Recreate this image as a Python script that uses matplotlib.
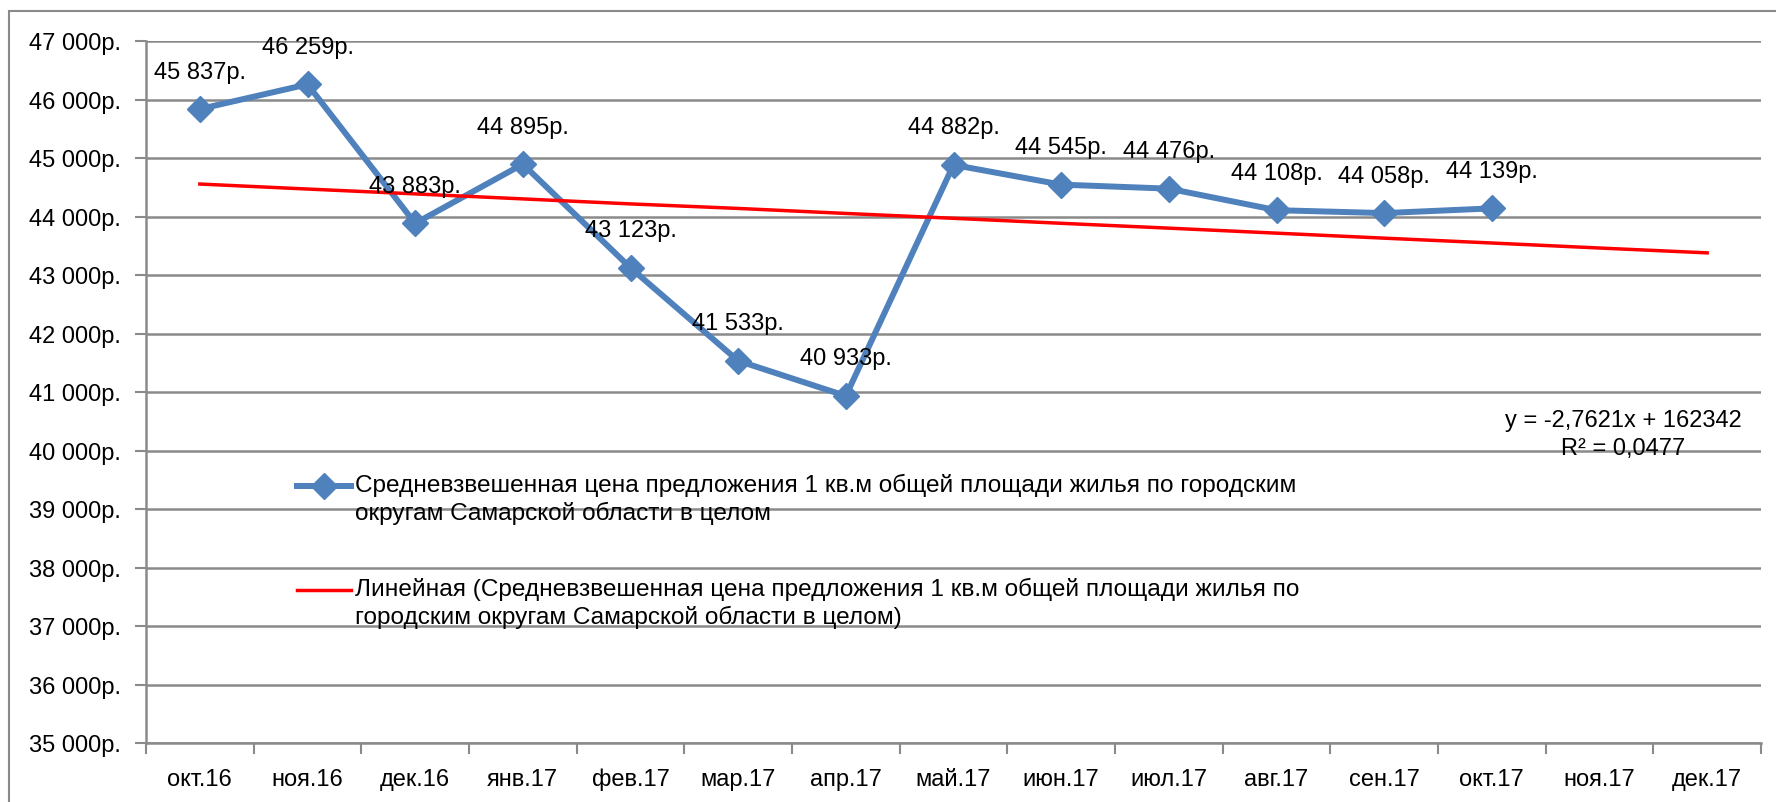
import numpy as np
import matplotlib
matplotlib.use('Agg')
import matplotlib.pyplot as plt
from matplotlib.lines import Line2D
from matplotlib.patches import Rectangle
from matplotlib.ticker import FuncFormatter

plt.rcParams['font.family'] = ['Liberation Sans', 'DejaVu Sans']

# данные
months = ['окт.16', 'ноя.16', 'дек.16', 'янв.17', 'фев.17', 'мар.17', 'апр.17', 'май.17',
          'июн.17', 'июл.17', 'авг.17', 'сен.17', 'окт.17', 'ноя.17', 'дек.17']
month_dates = np.arange(np.datetime64('2016-10'), np.datetime64('2018-01'),
                        np.timedelta64(1, 'M')).astype('datetime64[D]')
prices = [45837, 46259, 43883, 44895, 43123, 41533, 40933, 44882,
          44545, 44476, 44108, 44058, 44139]

# линейный тренд (как в Excel: x = серийный номер даты)
slope = -2.7621
intercept = 162342
r2 = 0.0477
excel_serial = (month_dates - np.datetime64('1899-12-30')).astype(int)
trend = slope * excel_serial + intercept

series_label = 'Средневзвешенная цена предложения 1 кв.м общей площади жилья по городским\nокругам Самарской области в целом'
trend_label = 'Линейная (Средневзвешенная цена предложения 1 кв.м общей площади жилья по\nгородским округам Самарской области в целом)'

grey = '#8a8a8a'
blue = '#4f81bd'
red = '#ff0000'
fs = 17

W, H = 1776, 803
fig = plt.figure(figsize=(W / 100, H / 100), dpi=100)
ax = fig.add_axes([146 / W, 1 - 744 / H, 1615 / W, 702 / H])

# рамка диаграммы
fig.add_artist(Rectangle((9 / W, -0.1), 1.2, 1 - 12 / H + 0.1, transform=fig.transFigure,
                         fill=False, edgecolor=grey, linewidth=1.5))

x = np.arange(len(prices))
ax.plot(x, prices, color=blue, linewidth=4.3, marker='D', markersize=13,
        markerfacecolor=blue, markeredgecolor=blue, zorder=3)
ax.plot(np.arange(len(months)), trend, color=red, linewidth=2.5, zorder=4)

for xi, v in zip(x, prices):
    ax.annotate(f'{v:,}'.replace(',', ' ') + 'р.', (xi, v), xytext=(0, 27),
                textcoords='offset points', ha='center', va='center', fontsize=fs, zorder=5)

ax.set_xlim(-0.5, len(months) - 0.5)
ax.set_ylim(35000, 47000)
ax.set_yticks(np.arange(35000, 47001, 1000))
ax.yaxis.set_major_formatter(FuncFormatter(lambda v, p: f'{int(v):,}'.replace(',', ' ') + 'р.'))
ax.set_xticks(np.arange(len(months)))
ax.set_xticklabels(months)
ax.set_xticks(np.arange(-0.5, len(months)), minor=True)
ax.tick_params(axis='x', which='major', length=0, pad=18, labelsize=fs)
ax.tick_params(axis='x', which='minor', length=8, color=grey, width=1.5)
ax.tick_params(axis='y', length=8, color=grey, width=1.5, pad=10, labelsize=fs)

ax.grid(axis='y', color=grey, linewidth=1.8, zorder=0)
ax.set_axisbelow(True)
for s in ['top', 'right']:
    ax.spines[s].set_visible(False)
for s in ['left', 'bottom']:
    ax.spines[s].set_color(grey)
    ax.spines[s].set_linewidth(1.8)

# легенда
fig.add_artist(Line2D([297 / W, 324 / W, 351 / W], [1 - 487 / H] * 3, transform=fig.transFigure,
                      color=blue, linewidth=4.3, marker='D', markevery=[1], markersize=13))
fig.add_artist(Line2D([297 / W, 351 / W], [1 - 591 / H] * 2, transform=fig.transFigure,
                      color=red, linewidth=2.5))
fig.text(355 / W, 1 - 474 / H, series_label, fontsize=17.6, va='top', ha='left', linespacing=1.25)
fig.text(355 / W, 1 - 578 / H, trend_label, fontsize=17.6, va='top', ha='left', linespacing=1.25)

# уравнение тренда
eq = f'y = {slope}x + {intercept}'.replace('.', ',')
fig.text(1623 / W, 1 - 435 / H, eq + '\n' + f'R² = {r2}'.replace('.', ','),
         fontsize=fs, ha='center', va='center', linespacing=1.4)

fig.savefig('out.png', dpi=100)
